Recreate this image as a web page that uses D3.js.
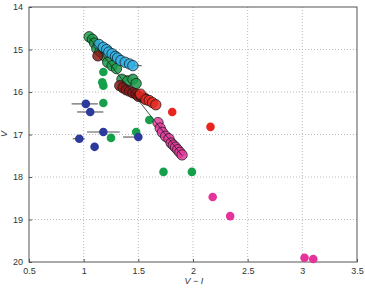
<!DOCTYPE html>
<html>
<head>
<meta charset="utf-8">
<script src="https://cdn.jsdelivr.net/npm/d3@7"></script>
<style>
  body { margin: 0; background: #fff; }
  svg text { font-family: "Liberation Sans", Arial, sans-serif; fill: #333; }
  .grid line { stroke: #bbb; stroke-dasharray: 1,2; }
</style>
</head>
<body>
<script>
//colour-magnitude data, [V-I, V]
var xTicks = [0.5, 1, 1.5, 2, 2.5, 3, 3.5];
var yTicks = [14, 15, 16, 17, 18, 19, 20];

//outlined members along the sequence
var greenRing = [[1.05,14.7],[1.08,14.76],[1.1,14.85],[1.12,14.98],[1.15,15.05],[1.19,15.15],[1.22,15.3],[1.26,15.38],[1.3,15.45],[1.35,15.7],[1.4,15.75],[1.45,15.7],[1.48,15.8]];
var cyanRing = [[1.14,14.88],[1.18,14.95],[1.21,15.0],[1.23,15.06],[1.26,15.1],[1.29,15.16],[1.31,15.2],[1.34,15.26],[1.38,15.3],[1.42,15.34],[1.45,15.38]];
var darkRing = [[1.13,15.15],[1.33,15.85],[1.36,15.9],[1.39,15.95],[1.42,15.98],[1.45,16.02],[1.48,16.05],[1.5,16.1],[1.53,16.12],[1.56,16.15]];
var redRing = [[1.52,16.05],[1.57,16.18],[1.6,16.2],[1.63,16.25],[1.66,16.3]];
var pinkRing = [[1.68,16.72],[1.7,16.85],[1.72,16.95],[1.75,17.04],[1.78,17.1],[1.8,17.2],[1.82,17.25],[1.84,17.3],[1.86,17.36],[1.88,17.42],[1.9,17.48]];

//plain field stars
var greenDots = [[1.18,15.53],[1.17,15.77],[1.18,15.85],[1.18,16.26],[1.6,16.66],[1.48,16.94],[1.25,17.08],[1.73,17.88],[1.99,17.88]];
var redDots = [[1.81,16.47],[2.16,16.82]];
var pinkDots = [[2.18,18.47],[2.34,18.92],[3.02,19.9],[3.1,19.93]];
var blueDots = [[1.02,16.28],[1.06,16.47],[1.18,16.94],[0.96,17.1],[1.1,17.29],[1.5,17.06]];

//horizontal error bars [xmin, xmax, V]
var errBars = [[0.89,1.13,16.28],[0.94,1.18,16.47],[1.03,1.33,16.94],[0.9,1.01,17.1],[1.36,1.53,17.06],[1.42,1.53,15.38],[1.33,1.45,15.62]];

//sequence fit line
var fitLine = [[1.05,14.72],[1.9,17.5]];

(function(){

var width = 365, height = 289,
    padLeft = 29, padRight = 357, padTop = 7, padBottom = 262;

var x = d3.scaleLinear().domain([0.5, 3.5]).range([padLeft, padRight]);
var y = d3.scaleLinear().domain([14, 20]).range([padTop, padBottom]);

var svg = d3.select("body").append("svg")
    .attr("width", width)
    .attr("height", height);

//dotted grid
var grid = svg.append("g").attr("class", "grid");
grid.selectAll(".gx").data(xTicks.slice(1, -1)).enter().append("line")
    .attr("x1", function(d){ return x(d); }).attr("x2", function(d){ return x(d); })
    .attr("y1", padTop).attr("y2", padBottom);
grid.selectAll(".gy").data(yTicks.slice(1, -1)).enter().append("line")
    .attr("x1", padLeft).attr("x2", padRight)
    .attr("y1", function(d){ return y(d); }).attr("y2", function(d){ return y(d); });

//frame
svg.append("rect")
    .attr("x", padLeft).attr("y", padTop)
    .attr("width", padRight - padLeft).attr("height", padBottom - padTop)
    .attr("fill", "none").attr("stroke", "#555").attr("stroke-width", 1);

//axes
var xAxis = svg.append("g")
    .attr("transform", "translate(0," + padBottom + ")")
    .call(d3.axisBottom(x).tickValues(xTicks).tickSize(-3).tickPadding(6)
        .tickFormat(d3.format("")));
var yAxis = svg.append("g")
    .attr("transform", "translate(" + padLeft + ",0)")
    .call(d3.axisLeft(y).tickValues(yTicks).tickSize(-3).tickPadding(6)
        .tickFormat(d3.format("d")));
[xAxis, yAxis].forEach(function(a){
    a.select(".domain").remove();
    a.selectAll("line").attr("stroke", "#555");
    a.selectAll("text").style("font-size", "9px").attr("fill", "#333");
});

//axis titles
svg.append("text")
    .attr("x", (padLeft + padRight) / 2 + 1).attr("y", 284)
    .attr("text-anchor", "middle")
    .style("font-size", "9px").style("font-style", "italic")
    .text("V − I");
svg.append("text")
    .attr("transform", "translate(7," + 134 + ") rotate(-90)")
    .attr("text-anchor", "middle")
    .style("font-size", "9px").style("font-style", "italic")
    .text("V");

var plot = svg.append("g");

//error bars
plot.selectAll(".err").data(errBars).enter().append("line")
    .attr("x1", function(d){ return x(d[0]); })
    .attr("x2", function(d){ return x(d[1]); })
    .attr("y1", function(d){ return y(d[2]); })
    .attr("y2", function(d){ return y(d[2]); })
    .attr("stroke", "#555").attr("stroke-width", 1.1);

function dots(data, color, r, ring){
    plot.selectAll(null).data(data).enter().append("circle")
        .attr("cx", function(d){ return x(d[0]); })
        .attr("cy", function(d){ return y(d[1]); })
        .attr("r", r)
        .attr("fill", color)
        .attr("fill-opacity", ring ? 0.85 : 1)
        .attr("stroke", ring ? "#111" : "none")
        .attr("stroke-width", 0.7);
}

dots(greenDots, "#17a04b", 4.3, false);
dots(blueDots, "#2c3a9c", 4.3, false);
dots(redDots, "#e8261f", 4.3, false);
dots(pinkDots, "#e43499", 4.3, false);

dots(greenRing, "#1b9a4a", 5.2, true);
dots(cyanRing, "#33afe2", 5.2, true);
dots(darkRing, "#8a1a18", 5.2, true);
dots(redRing, "#e52a22", 5.2, true);
dots(pinkRing, "#e23b9c", 5.2, true);

//fit line
plot.append("path")
    .datum(fitLine)
    .attr("d", d3.line().x(function(d){ return x(d[0]); }).y(function(d){ return y(d[1]); }))
    .attr("stroke", "#222").attr("stroke-width", 0.8).attr("fill", "none");

})();
</script>
</body>
</html>
